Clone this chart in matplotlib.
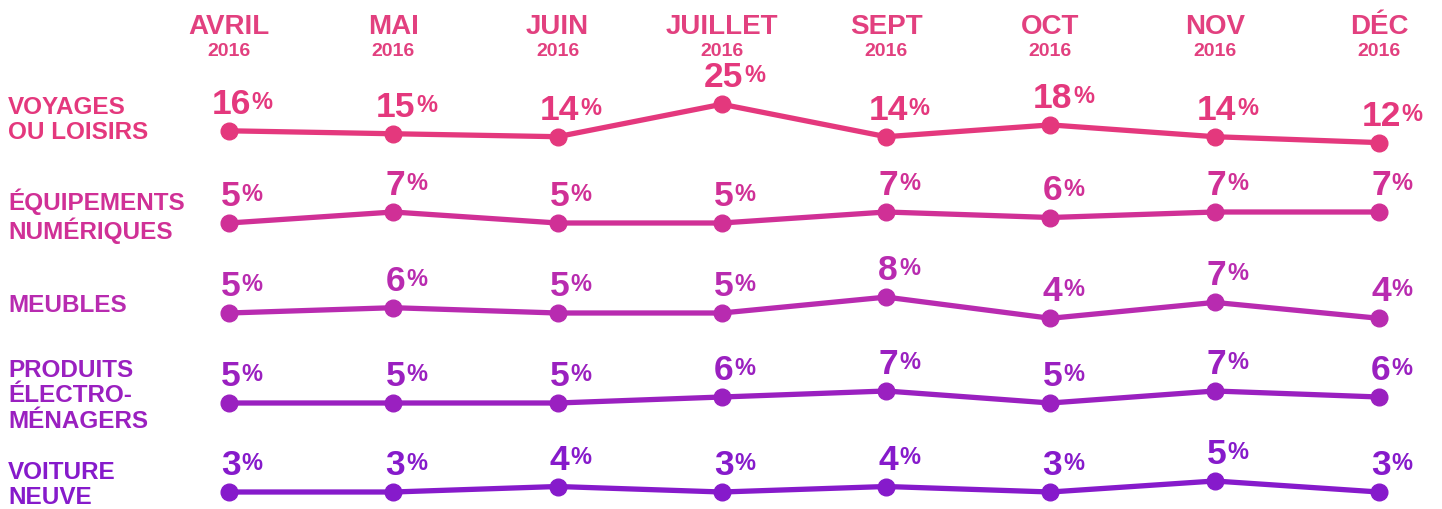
import numpy as np
import matplotlib.pyplot as plt
from matplotlib.transforms import blended_transform_factory

plt.rcParams['font.family'] = ['Liberation Sans', 'DejaVu Sans']

mois = ['AVRIL', 'MAI', 'JUIN', 'JUILLET', 'SEPT', 'OCT', 'NOV', 'DÉC']
annee = '2016'

categories = ['VOYAGES\nOU LOISIRS', 'ÉQUIPEMENTS\nNUMÉRIQUES', 'MEUBLES',
              'PRODUITS\nÉLECTRO-\nMÉNAGERS', 'VOITURE\nNEUVE']

voyages = [16, 15, 14, 25, 14, 18, 14, 12]
equipements = [5, 7, 5, 5, 7, 6, 7, 7]
meubles = [5, 6, 5, 5, 8, 4, 7, 4]
electromenager = [5, 5, 5, 6, 7, 5, 7, 6]
voiture = [3, 3, 4, 3, 4, 3, 5, 3]
series = [voyages, equipements, meubles, electromenager, voiture]

couleurs = ['#e4387d', '#d03096', '#b82bb0', '#9a20c0', '#861acb']
couleur_mois = '#e2407f'

# placement of each row in the picture: (pixel y of value 0, pixels per %)
W, H = 1442, 509
rows = [(178.0, 2.95), (250.5, 5.5), (339.5, 5.3), (433.0, 6.0), (508.5, 5.5)]
label_y = [120, 216, 306, 396, 485]

x0_px, dx_px = 229, (1379 - 229) / 7
xlim = (-x0_px / dx_px, (W - x0_px) / dx_px)

fig = plt.figure(figsize=(W / 100, H / 100), dpi=100)
fig.patch.set_facecolor('white')

x = np.arange(len(mois))
axes = []
for k, (vals, col, (c, s)) in enumerate(zip(series, couleurs, rows)):
    ax = fig.add_axes([0, 0, 1, 1], label='row%d' % k)
    ax.patch.set_alpha(0)
    ax.set_xlim(*xlim)
    ax.set_ylim((c - H) / s, c / s)
    ax.axis('off')
    ax.plot(x, vals, color=col, lw=3.8, marker='o', ms=12, solid_capstyle='round', zorder=3)
    for i, v in zip(x, vals):
        nd = len(str(v))
        ax.annotate(str(v), xy=(i, v), xytext=(2, 17), textcoords='offset pixels',
                    ha='center', va='baseline', fontsize=25.5, fontweight='bold', color=col)
        ax.annotate('%', xy=(i, v), xytext=(2 + nd * 9.8 + 1, 22), textcoords='offset pixels',
                    ha='left', va='baseline', fontsize=17, fontweight='bold', color=col)
    fig.text(8 / W, 1 - label_y[k] / H, categories[k], ha='left', va='center',
             fontsize=17.5, fontweight='bold', color=col, linespacing=1.12)
    axes.append(ax)

tr = blended_transform_factory(axes[0].transData, fig.transFigure)
for i, m in zip(x, mois):
    axes[0].text(i, 1 - 27 / H, m, transform=tr, ha='center', va='center',
                 fontsize=20, fontweight='bold', color=couleur_mois)
    axes[0].text(i, 1 - 51 / H, annee, transform=tr, ha='center', va='center',
                 fontsize=14, fontweight='bold', color=couleur_mois)

fig.savefig('out.png', dpi=100, facecolor='white')
